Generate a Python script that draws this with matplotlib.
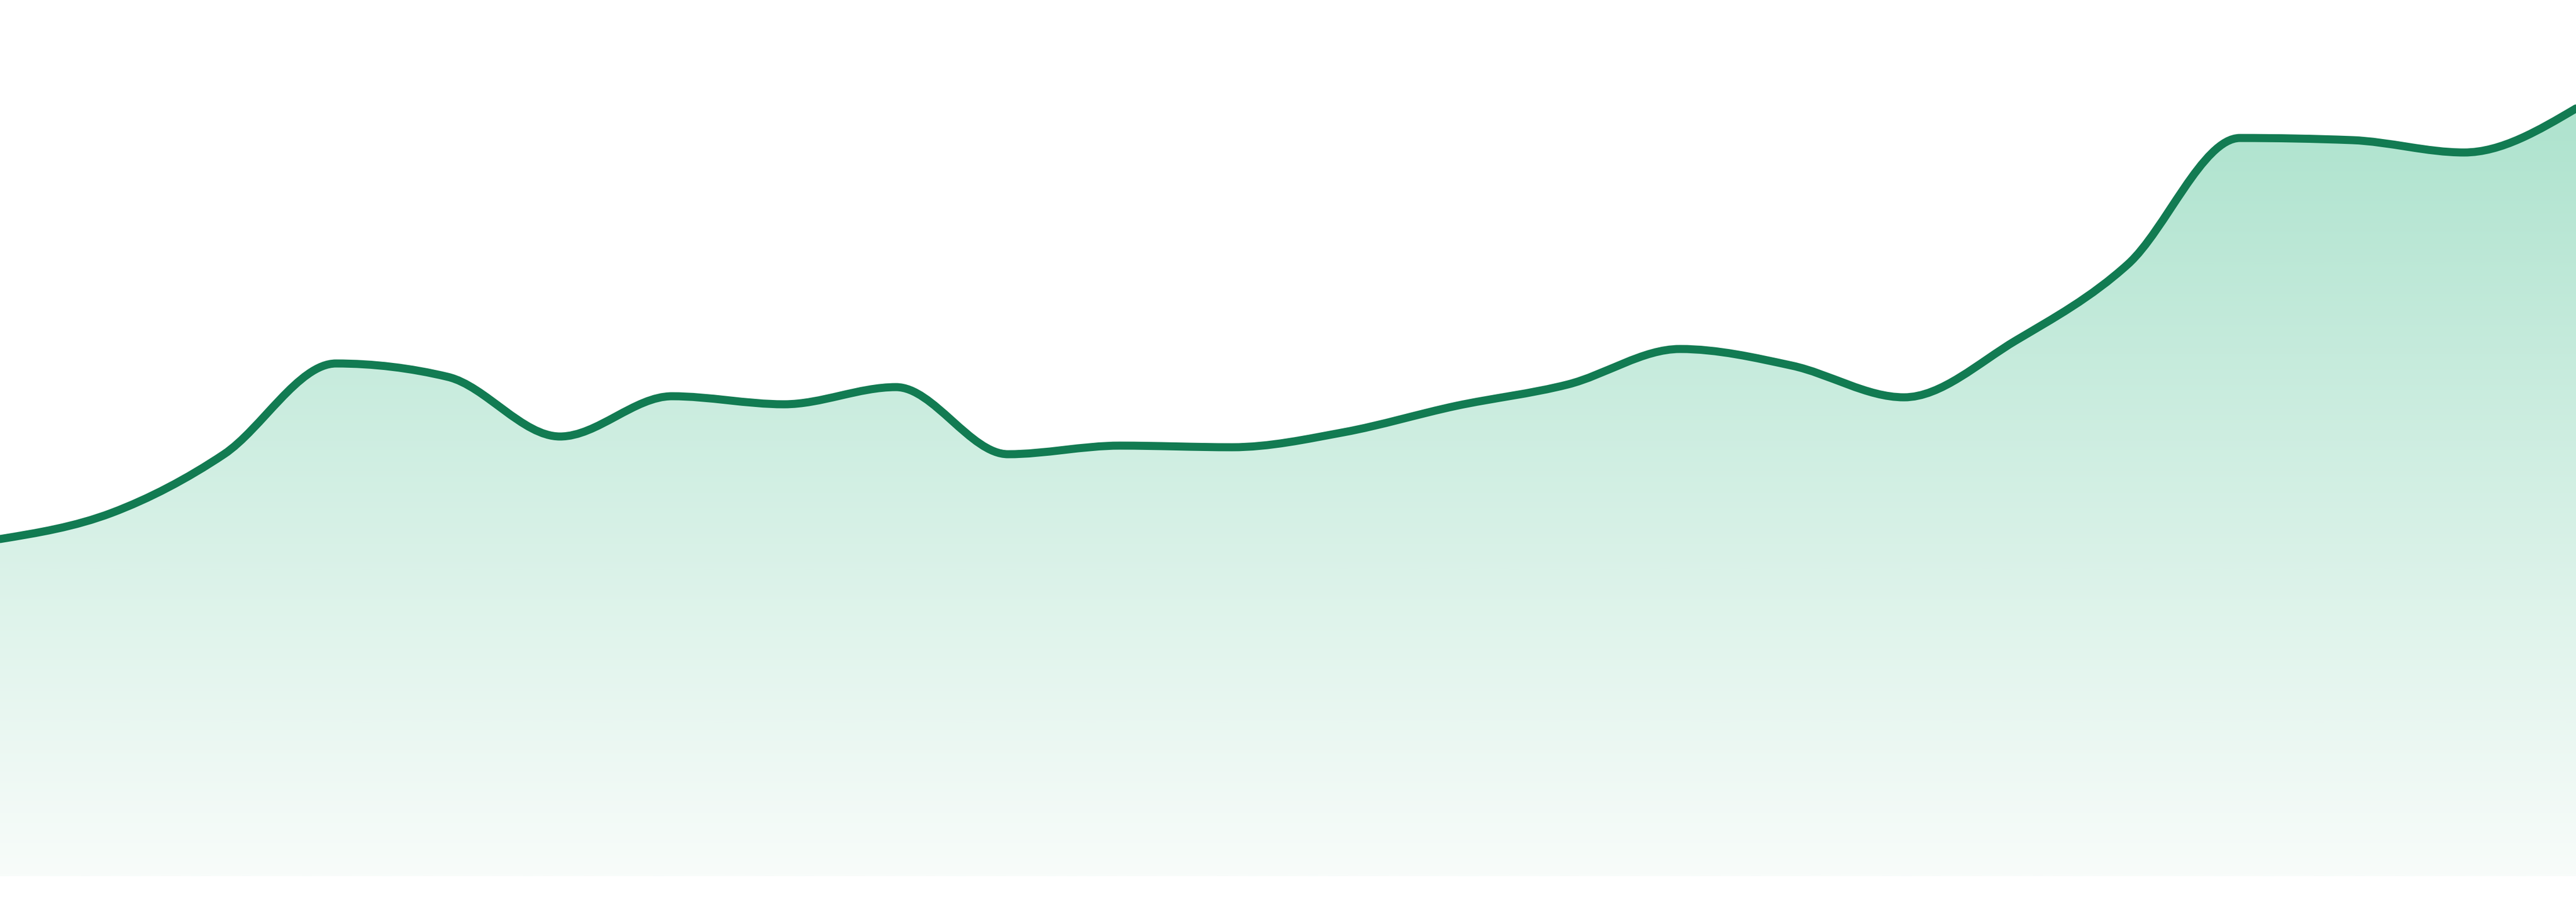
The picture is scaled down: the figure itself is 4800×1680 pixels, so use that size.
import numpy as np
import matplotlib
matplotlib.use("Agg")
import matplotlib.pyplot as plt
from matplotlib.path import Path
from matplotlib.patches import PathPatch
from matplotlib.colors import LinearSegmentedColormap

# ---- data ----
x_index = list(range(24))
values = [62.8, 67.7, 78.6, 95.5, 93.0, 81.9, 89.4, 87.9, 91.1, 78.6,
          80.2, 79.9, 82.7, 87.6, 91.6, 98.2, 95.1, 89.2, 99.8, 114.0,
          137.5, 137.1, 134.8, 143.0]

line_color = "#127b52"
grad_top = (174 / 255, 227 / 255, 206 / 255)
grad_bottom = (248 / 255, 252 / 255, 250 / 255)


def monotone_slopes(x, y):
    x = np.asarray(x, float)
    y = np.asarray(y, float)
    n = len(x)
    h = np.diff(x)
    s = np.diff(y) / h
    t = np.zeros(n)
    sgn = lambda v: -1.0 if v < 0 else 1.0
    for i in range(1, n - 1):
        h0, h1 = h[i - 1], h[i]
        s0, s1 = s[i - 1], s[i]
        p = (s0 * h1 + s1 * h0) / (h0 + h1)
        t[i] = (sgn(s0) + sgn(s1)) * min(abs(s0), abs(s1), 0.5 * abs(p))
    t[0] = (3 * s[0] - t[1]) / 2
    t[-1] = (3 * s[-1] - t[-2]) / 2
    return t


def curve_vertices(x, y):
    t = monotone_slopes(x, y)
    verts = [(x[0], y[0])]
    codes = [Path.MOVETO]
    for i in range(len(x) - 1):
        dx = (x[i + 1] - x[i]) / 3.0
        verts += [(x[i] + dx, y[i] + dx * t[i]),
                  (x[i + 1] - dx, y[i + 1] - dx * t[i + 1]),
                  (x[i + 1], y[i + 1])]
        codes += [Path.CURVE4] * 3
    return verts, codes


fig = plt.figure(figsize=(16, 5.6), dpi=300)
ax = fig.add_axes([0, 0, 1, 1])
ax.axis("off")

verts, codes = curve_vertices(x_index, values)

# area path
a_verts = verts + [(x_index[-1], 0), (x_index[0], 0), (x_index[0], values[0])]
a_codes = codes + [Path.LINETO, Path.LINETO, Path.CLOSEPOLY]
area = PathPatch(Path(a_verts, a_codes), facecolor="none", edgecolor="none",
                 transform=ax.transData)
ax.add_patch(area)

cmap = LinearSegmentedColormap.from_list("g", [grad_bottom, grad_top])
grad = np.linspace(0, 1, 512).reshape(-1, 1)
im = ax.imshow(grad, cmap=cmap, origin="lower", aspect="auto",
               extent=[x_index[0], x_index[-1], 0, max(values)],
               interpolation="bilinear", zorder=1)
im.set_clip_path(area)

line = PathPatch(Path(verts, codes), facecolor="none", edgecolor=line_color,
                 linewidth=3.6, capstyle="round", joinstyle="round", zorder=3,
                 transform=ax.transData)
ax.add_patch(line)

ax.set_xlim(0, len(x_index) - 1)
ax.set_ylim(-4.8, 163.2)
fig.savefig("out.png", dpi=300, facecolor="white")
